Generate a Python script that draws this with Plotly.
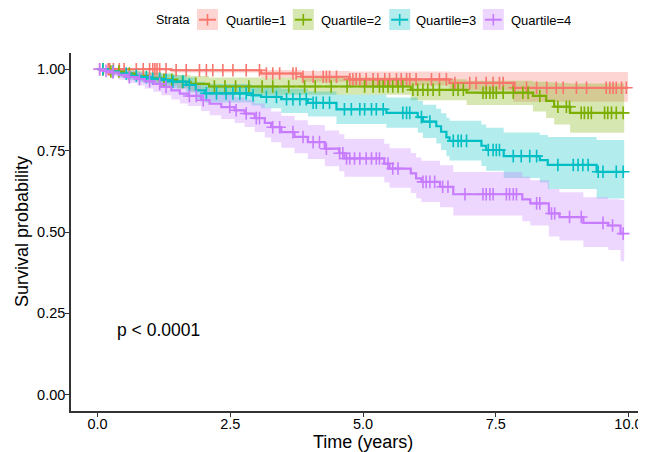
import numpy as np
import plotly.graph_objects as go

# ---------------- data ----------------
strata = ["Quartile=1", "Quartile=2", "Quartile=3", "Quartile=4"]
colors = ["#F8766D", "#7CAE00", "#00BFC4", "#C77CFF"]

# Quartile=1
q1_time = [1.39, 3.08, 3.84, 4.75, 6.63, 7.83]
q1_surv = [0.997, 0.987, 0.977, 0.969, 0.958, 0.943]
q1_low = [0.99, 0.975, 0.962, 0.951, 0.935, 0.90]
q1_up = [1.0, 0.998, 0.995, 0.993, 0.992, 0.992]
q1_end = 9.99
q1_cens = [0.04, 0.1, 0.2, 0.23, 0.3, 0.41, 0.5, 0.73, 0.86, 0.98, 1.04, 1.08, 1.12, 1.17,
           1.29, 1.48, 1.67, 1.92, 2.05, 2.17, 2.36, 2.55, 2.8, 3.05, 3.18, 3.3, 3.43,
           3.68, 3.74, 3.87, 4.06, 4.25, 4.31, 4.37, 4.5, 4.75, 4.81, 4.87, 4.94, 5.06,
           5.19, 5.28, 5.41, 5.5, 5.63, 5.72, 5.82, 5.88, 6.0, 6.29, 6.44, 6.57, 6.73,
           7.01, 7.13, 7.32, 7.45, 7.57, 7.64, 7.86, 8.08, 8.27, 8.46, 8.64, 8.77, 9.02,
           9.21, 9.58, 9.65, 9.71, 9.77, 9.87, 9.96]

# Quartile=2
q2_time = [0.2, 0.45, 0.7, 0.95, 1.2, 1.5, 1.75, 2.1, 5.9, 6.95, 8.2, 8.45, 8.6, 8.9]
q2_surv = [0.993, 0.987, 0.98, 0.974, 0.968, 0.961, 0.955, 0.947, 0.937, 0.928,
           0.918, 0.903, 0.885, 0.866]
q2_low = [0.985, 0.975, 0.966, 0.958, 0.95, 0.941, 0.933, 0.922, 0.905, 0.89,
          0.87, 0.85, 0.83, 0.805]
q2_up = [1.0, 0.999, 0.995, 0.991, 0.987, 0.983, 0.979, 0.975, 0.969, 0.965,
         0.962, 0.96, 0.958, 0.956]
q2_end = 9.92
q2_cens = [0.1, 0.25, 0.4, 0.6, 1.25, 1.4, 1.6, 1.85, 2.2, 2.4, 2.6, 2.85, 3.1, 3.3,
           3.6, 3.9, 4.1, 4.4, 4.7, 5.03, 5.19, 5.31, 5.38, 5.47, 5.56, 5.66, 5.75,
           5.94, 6.03, 6.13, 6.22, 6.32, 6.44, 6.7, 6.79, 6.89, 7.26, 7.32, 7.39, 7.45,
           7.51, 7.64, 7.83, 8.01, 8.11, 8.33, 8.67, 8.83, 8.89, 9.11, 9.17, 9.24, 9.3,
           9.55, 9.61, 9.68, 9.77, 9.9]

# Quartile=3
q3_time = [0.2, 0.4, 0.55, 0.8, 1.0, 1.2, 1.4, 1.67, 1.85, 2.02, 2.9, 3.08, 3.46, 3.96,
           4.5, 5.44, 6.03, 6.13, 6.38, 6.47, 6.57, 6.63, 7.23, 7.32, 7.65, 8.33, 8.48, 9.4]
q3_surv = [0.993, 0.987, 0.98, 0.976, 0.971, 0.967, 0.962, 0.952, 0.935, 0.926,
           0.92, 0.915, 0.908, 0.897, 0.877, 0.866, 0.853, 0.839, 0.825, 0.808,
           0.791, 0.78, 0.765, 0.752, 0.733, 0.721, 0.706, 0.685]
q3_low = [0.983, 0.975, 0.966, 0.96, 0.953, 0.948, 0.941, 0.929, 0.909, 0.898,
          0.889, 0.88, 0.866, 0.855, 0.832, 0.82, 0.805, 0.789, 0.772, 0.752,
          0.733, 0.72, 0.703, 0.688, 0.666, 0.652, 0.632, 0.603]
q3_up = [1.0, 0.999, 0.994, 0.991, 0.988, 0.986, 0.982, 0.975, 0.962, 0.955,
         0.95, 0.946, 0.94, 0.932, 0.922, 0.913, 0.903, 0.891, 0.879, 0.865,
         0.851, 0.842, 0.83, 0.82, 0.806, 0.798, 0.792, 0.783]
q3_end = 9.92
q3_cens = [0.1, 0.29, 0.54, 0.73, 0.92, 1.04, 1.17, 1.29, 1.42, 1.61, 1.73, 2.05, 2.24,
           2.42, 2.55, 2.68, 2.8, 2.93, 3.18, 3.37, 3.56, 3.68, 3.81, 3.93, 4.06, 4.12,
           4.25, 4.37, 4.65, 4.78, 4.94, 5.03, 5.16, 5.25, 5.38, 5.75, 5.82, 5.88, 6.1,
           6.26, 6.7, 6.79, 6.85, 6.95, 7.36, 7.45, 7.51, 7.57, 7.83, 7.98, 8.14, 8.27,
           8.67, 8.96, 9.05, 9.14, 9.24, 9.43, 9.52, 9.77, 9.9]

# Quartile=4
q4_time = [0.1, 0.26, 0.4, 0.57, 0.75, 0.89, 1.05, 1.2, 1.39, 1.55, 1.7, 1.95, 2.11,
           2.33, 2.58, 2.77, 2.96, 3.15, 3.27, 3.46, 3.71, 3.96, 4.28, 4.55, 4.65, 5.4,
           5.5, 5.9, 6.0, 6.1, 6.45, 6.7, 8.0, 8.15, 8.5, 8.7, 9.15, 9.62, 9.85]
q4_surv = [0.995, 0.99, 0.983, 0.976, 0.97, 0.963, 0.955, 0.946, 0.935, 0.925,
           0.918, 0.905, 0.894, 0.884, 0.874, 0.864, 0.85, 0.835, 0.822, 0.807,
           0.792, 0.776, 0.756, 0.742, 0.726, 0.71, 0.695, 0.68, 0.665, 0.654,
           0.639, 0.616, 0.6, 0.588, 0.557, 0.546, 0.528, 0.52, 0.495]
q4_low = [0.986, 0.978, 0.968, 0.958, 0.95, 0.941, 0.931, 0.92, 0.907, 0.895,
          0.887, 0.872, 0.859, 0.847, 0.835, 0.823, 0.807, 0.79, 0.776, 0.759,
          0.742, 0.724, 0.702, 0.687, 0.67, 0.652, 0.636, 0.62, 0.604, 0.592,
          0.576, 0.551, 0.533, 0.52, 0.486, 0.474, 0.454, 0.445, 0.41]
q4_up = [1.0, 1.0, 0.998, 0.994, 0.99, 0.985, 0.979, 0.972, 0.964, 0.956,
         0.95, 0.94, 0.931, 0.923, 0.914, 0.906, 0.895, 0.882, 0.87, 0.857,
         0.843, 0.829, 0.812, 0.8, 0.786, 0.771, 0.757, 0.743, 0.729, 0.719,
         0.705, 0.684, 0.67, 0.659, 0.632, 0.622, 0.607, 0.601, 0.598]
q4_end = 9.92
q4_cens = [0.04, 0.16, 0.29, 0.6, 0.79, 0.98, 1.17, 1.29, 1.73, 1.86, 1.99, 2.49, 2.61,
           2.8, 2.99, 3.05, 3.3, 3.43, 3.68, 3.87, 4.06, 4.18, 4.31, 4.56, 4.62, 4.69,
           4.75, 4.84, 4.94, 5.06, 5.16, 5.25, 5.31, 5.47, 5.56, 5.66, 6.13, 6.19, 6.26,
           6.35, 6.5, 6.6, 6.92, 7.26, 7.32, 7.39, 7.45, 7.7, 7.76, 7.83, 7.89, 8.27,
           8.33, 8.55, 8.61, 8.89, 9.11, 9.52, 9.7, 9.9]

pval_text = "p < 0.0001"
x_ticks = [0.0, 2.5, 5.0, 7.5, 10.0]
x_ticktext = ["0.0", "2.5", "5.0", "7.5", "10.0"]
y_ticks = [0.0, 0.25, 0.5, 0.75, 1.0]
y_ticktext = ["0.00", "0.25", "0.50", "0.75", "1.00"]

groups = [
    (q1_time, q1_surv, q1_low, q1_up, q1_end, q1_cens),
    (q2_time, q2_surv, q2_low, q2_up, q2_end, q2_cens),
    (q3_time, q3_surv, q3_low, q3_up, q3_end, q3_cens),
    (q4_time, q4_surv, q4_low, q4_up, q4_end, q4_cens),
]

# ---------------- figure ----------------
# the page body adds an 8px margin, so the figure is drawn 8px smaller/offset
OFF = 8
W, H = 646 - OFF, 452 - OFF
ML, MR, MT, MB = 71 - OFF, 0, 53 - OFF, 452 - 411
FONT = "Liberation Sans, Arial, Helvetica, sans-serif"


def rgba(hex_color, a):
    h = hex_color.lstrip("#")
    r, g, b = int(h[0:2], 16), int(h[2:4], 16), int(h[4:6], 16)
    return f"rgba({r},{g},{b},{a})"


def step_xy(times, vals, end):
    xs = [0.0] + list(times) + [end]
    ys = [1.0] + list(vals) + [vals[-1]]
    return xs, ys


fig = go.Figure()

# confidence bands
for (t, s, lo, up, end, cens), col in zip(groups, colors):
    xl, yl = step_xy(t, lo, end)
    xu, yu = step_xy(t, up, end)
    fig.add_trace(go.Scatter(x=xl, y=yl, mode="lines", line=dict(width=0, shape="hv"),
                             showlegend=False, hoverinfo="skip"))
    fig.add_trace(go.Scatter(x=xu, y=yu, mode="lines", line=dict(width=0, shape="hv"),
                             fill="tonexty", fillcolor=rgba(col, 0.3),
                             showlegend=False, hoverinfo="skip"))

# survival curves and censor marks
for (t, s, lo, up, end, cens), col, name in zip(groups, colors, strata):
    xs, ys = step_xy(t, s, end)
    fig.add_trace(go.Scatter(x=xs, y=ys, mode="lines", line=dict(color=col, width=2.2, shape="hv"),
                             name=name, showlegend=False))
    ta = np.array(t)
    sa = np.array(s)
    cy = []
    for c in cens:
        k = np.searchsorted(ta, c, side="right")
        cy.append(1.0 if k == 0 else float(sa[k - 1]))
    fig.add_trace(go.Scatter(x=cens, y=cy, mode="markers",
                             marker=dict(symbol="cross-thin", size=9,
                                         line=dict(color=col, width=1.6)),
                             showlegend=False, hoverinfo="skip"))

# p-value
fig.add_annotation(x=0.32, y=0.2, xref="x", yref="y", text=pval_text, showarrow=False,
                   xanchor="left", yanchor="middle", font=dict(size=17.5, color="black", family=FONT))

pw, ph = W - ML - MR, H - MT - MB


def fx(px):  # reference-picture pixel -> paper
    return (px - OFF - ML) / pw


def fy(py):
    return (H - MB - (py - OFF)) / ph


# axis titles
fig.add_annotation(x=fx(363), y=fy(442), xref="paper", yref="paper", text="Time (years)",
                   showarrow=False, xanchor="center", yanchor="middle",
                   font=dict(size=18, color="black", family=FONT))
fig.add_annotation(x=fx(22), y=fy(232), xref="paper", yref="paper", text="Survival probability",
                   showarrow=False, xanchor="center", yanchor="middle", textangle=-90,
                   font=dict(size=18, color="black", family=FONT))

# manual legend (top)
fig.add_annotation(x=fx(154), y=fy(20), xref="paper", yref="paper", text="Strata",
                   showarrow=False, xanchor="left", yanchor="middle",
                   font=dict(size=12.5, color="black", family=FONT))
sq_cx = [207.5, 303.3, 399.7, 493.3]
lab_x = [224, 319, 414, 509]
for cx, lx, col, name in zip(sq_cx, lab_x, colors, strata):
    fig.add_shape(type="rect", xref="paper", yref="paper",
                  x0=fx(cx - 10.5), x1=fx(cx + 10.5), y0=fy(30), y1=fy(9),
                  fillcolor=rgba(col, 0.3), line=dict(width=0), layer="above")
    fig.add_shape(type="line", xref="paper", yref="paper",
                  x0=fx(cx - 8.5), x1=fx(cx + 8.5), y0=fy(19.7), y1=fy(19.7),
                  line=dict(color=col, width=2), layer="above")
    fig.add_shape(type="line", xref="paper", yref="paper",
                  x0=fx(cx), x1=fx(cx), y0=fy(14), y1=fy(25.5),
                  line=dict(color=col, width=1.6), layer="above")
    fig.add_annotation(x=fx(lx), y=fy(20), xref="paper", yref="paper", text=name,
                       showarrow=False, xanchor="left", yanchor="middle",
                       font=dict(size=13, color="black", family=FONT))

axis_common = dict(showline=True, linecolor="#333333", linewidth=1.6, ticks="outside",
                   ticklen=4, tickwidth=1.4, tickcolor="#333333", showgrid=False,
                   zeroline=False, tickfont=dict(size=14.5, color="black", family=FONT))

fig.update_layout(
    width=W, height=H,
    margin=dict(l=ML, r=MR, t=MT, b=MB, autoexpand=False),
    plot_bgcolor="white", paper_bgcolor="white",
    showlegend=False,
    font=dict(family=FONT, color="black"),
    xaxis=dict(range=[-0.5, 10.33], tickvals=x_ticks, ticktext=x_ticktext,
               ticklabelstandoff=-5, **axis_common),
    yaxis=dict(range=[-0.05, 1.05], tickvals=y_ticks, ticktext=y_ticktext,
               ticklabelstandoff=-3, **axis_common),
)

fig.write_html("out.html")
